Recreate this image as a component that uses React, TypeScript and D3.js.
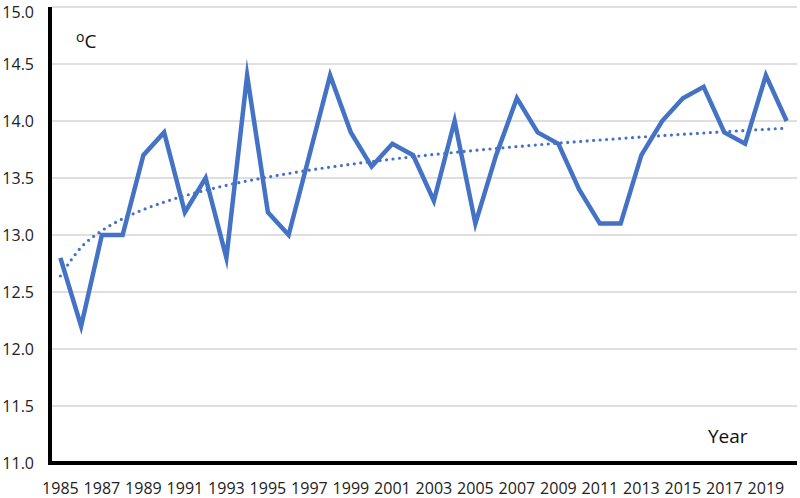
import React from "react";
import * as d3 from "d3";

const years: number[] = [
  1985, 1986, 1987, 1988, 1989, 1990, 1991, 1992, 1993, 1994, 1995, 1996,
  1997, 1998, 1999, 2000, 2001, 2002, 2003, 2004, 2005, 2006, 2007, 2008,
  2009, 2010, 2011, 2012, 2013, 2014, 2015, 2016, 2017, 2018, 2019, 2020,
];
const temps: number[] = [
  12.8, 12.2, 13.0, 13.0, 13.7, 13.9, 13.2, 13.5, 12.8, 14.4, 13.2, 13.0,
  13.7, 14.4, 13.9, 13.6, 13.8, 13.7, 13.3, 14.0, 13.1, 13.7, 14.2, 13.9,
  13.8, 13.4, 13.1, 13.1, 13.7, 14.0, 14.2, 14.3, 13.9, 13.8, 14.4, 14.0,
];
const yTicks: number[] = [11.0, 11.5, 12.0, 12.5, 13.0, 13.5, 14.0, 14.5, 15.0];
const xTickLabels: number[] = years.filter((_, i) => i % 2 === 0);

const W = 800;
const H = 498;
const left = 50;
const right = 797;
const top = 7;
const bottom = 463;
const FONT = "'Open Sans', 'DejaVu Sans', sans-serif";

export default function App() {
  const x = d3
    .scaleBand<number>()
    .domain(years)
    .range([left, right])
    .padding(0);
  const cx = (yr: number) => (x(yr) as number) + x.bandwidth() / 2;
  const y = d3.scaleLinear().domain([11, 15]).range([bottom, top]);

  // logarithmic trendline (least squares on ln(index))
  const lx = temps.map((_, i) => Math.log(i + 1));
  const mx = d3.mean(lx) as number;
  const my = d3.mean(temps) as number;
  let sxy = 0;
  let sxx = 0;
  lx.forEach((v, i) => {
    sxy += (v - mx) * (temps[i] - my);
    sxx += (v - mx) * (v - mx);
  });
  const b = sxy / sxx;
  const a = my - b * mx;
  const trend = years.map((yr, i) => ({ yr, v: a + b * Math.log(i + 1) }));

  const line = d3
    .line<number>()
    .x((_, i) => cx(years[i]))
    .y((d) => y(d));
  const trendLine = d3
    .line<{ yr: number; v: number }>()
    .x((d) => cx(d.yr))
    .y((d) => y(d.v))
    .curve(d3.curveMonotoneX);

  return (
    <svg
      width={W}
      height={H}
      style={{ position: "absolute", left: 0, top: 0, background: "#fff" }}
      fontFamily={FONT}
    >
      {yTicks
        .filter((t) => t > 11)
        .map((t) => (
          <line
            key={"g" + t}
            x1={left + 2}
            x2={right}
            y1={y(t)}
            y2={y(t)}
            stroke="#d4d4d4"
            strokeWidth={1.6}
          />
        ))}
      {yTicks.map((t) => (
        <text
          key={"yl" + t}
          x={34}
          y={Math.max(y(t), 11.5)}
          textAnchor="end"
          dominantBaseline="central"
          fontSize={16}
          fill="#222"
        >
          {t.toFixed(1)}
        </text>
      ))}
      {xTickLabels.map((yr) => (
        <text
          key={"xl" + yr}
          x={cx(yr)}
          y={494}
          textAnchor="middle"
          fontSize={16}
          fill="#222"
        >
          {yr}
        </text>
      ))}
      <path
        d={trendLine(trend) || ""}
        fill="none"
        stroke="#4472C4"
        strokeWidth={3.2}
        strokeLinecap="round"
        strokeDasharray="0 6.5"
      />
      <path
        d={line(temps) || ""}
        fill="none"
        stroke="#4472C4"
        strokeWidth={4.5}
        strokeLinejoin="miter"
        strokeMiterlimit={10}
      />
      <line x1={left} x2={left} y1={top} y2={bottom + 2} stroke="#000" strokeWidth={4} />
      <line x1={left - 2} x2={right} y1={bottom} y2={bottom} stroke="#000" strokeWidth={4} />
      <text x={76} y={48} fontSize={19} fill="#111">
        <tspan fontSize={14} dy={-6}>o</tspan>
        <tspan dy={6}>C</tspan>
      </text>
      <text x={708} y={443} fontSize={19} fill="#111">
        Year
      </text>
    </svg>
  );
}
